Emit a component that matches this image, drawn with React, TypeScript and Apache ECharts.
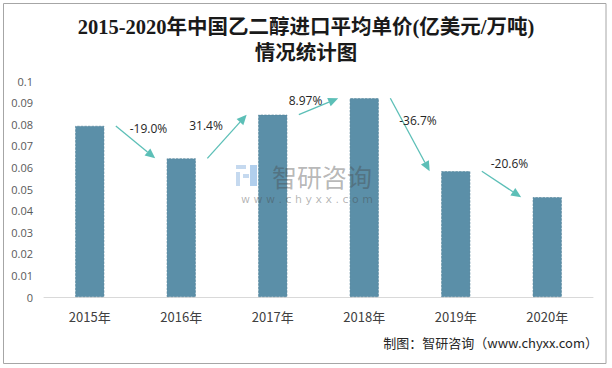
import React, { useEffect, useRef } from "react";
import * as echarts from "echarts";

const years = ["2015年", "2016年", "2017年", "2018年", "2019年", "2020年"];
const prices = [0.0792, 0.0642, 0.0844, 0.092, 0.0582, 0.0462];
const changeLabels = ["-19.0%", "31.4%", "8.97%", "-36.7%", "-20.6%"];
// label offsets (px) relative to each arrow's midpoint
const labelOffsets = [
  [13, -14],
  [-21, -11],
  [-13, -6],
  [8, -14],
  [8, -21],
];

const titleText = "2015-2020年中国乙二醇进口平均单价(亿美元/万吨)\n情况统计图";
const sourceText = "制图：智研咨询（www.chyxx.com）";

export default function App() {
  const ref = useRef<HTMLDivElement>(null);
  useEffect(() => {
    if (!ref.current) return;
    const chart = echarts.init(ref.current, null, { renderer: "svg" });
    const arrowData = changeLabels.map((lab, i) => [i, prices[i], prices[i + 1], lab]);
    const arrowColor = "#5cbfb7";
    const wmBlueLight = "rgba(150,185,225,0.55)";
    const wmBlue = "rgba(100,160,220,0.5)";
    chart.setOption({
      animation: false,
      backgroundColor: "#ffffff",
      title: {
        text: titleText,
        left: "center",
        top: 9,
        textStyle: {
          fontFamily: "'Liberation Serif', 'Noto Sans CJK SC', serif",
          fontSize: 20.5,
          fontWeight: "bold",
          color: "#1a1a1a",
          lineHeight: 26,
        },
      },
      grid: { left: 44, right: 19, top: 81, bottom: 71 },
      xAxis: {
        type: "category",
        data: years,
        axisLine: { lineStyle: { color: "#d9d9d9", width: 1 } },
        axisTick: { show: false },
        axisLabel: {
          color: "#404040",
          fontSize: 13,
          margin: 13,
          fontFamily: "'Noto Sans CJK SC', sans-serif",
        },
      },
      yAxis: {
        type: "value",
        min: 0,
        max: 0.1,
        interval: 0.01,
        splitLine: { show: false },
        axisLine: { show: false },
        axisTick: { show: false },
        axisLabel: {
          color: "#595959",
          fontSize: 11,
          margin: 11,
          fontFamily: "'Open Sans', sans-serif",
          formatter: (v: number) => (v === 0 ? "0" : String(parseFloat(v.toFixed(2)))),
        },
      },
      series: [
        {
          type: "bar",
          data: prices,
          barWidth: 29,
          itemStyle: {
            color: "#5b8fa8",
            borderColor: "#4f7f97",
            borderWidth: 0.6,
            borderType: "dashed",
          },
          z: 2,
        },
        {
          type: "custom",
          data: arrowData,
          encode: { x: 0, y: [1, 2] },
          z: 5,
          renderItem: (params: any, api: any) => {
            const i = api.value(0);
            const p1 = api.coord([i, api.value(1)]);
            const p2 = api.coord([i + 1, api.value(2)]);
            const band = api.size([1, 0])[0];
            const off = band * 0.285;
            const x1 = p1[0] + off;
            const y1 = p1[1];
            const x2 = p2[0] - off;
            const y2 = p2[1];
            const dx = x2 - x1;
            const dy = y2 - y1;
            const len = Math.sqrt(dx * dx + dy * dy);
            const ux = dx / len;
            const uy = dy / len;
            const hl = 10;
            const hw = 4.5;
            const bx = x2 - ux * hl;
            const by = y2 - uy * hl;
            const o = labelOffsets[params.dataIndex];
            const mx = (x1 + x2) / 2 + o[0];
            const my = (y1 + y2) / 2 + o[1];
            return {
              type: "group",
              children: [
                {
                  type: "line",
                  shape: { x1, y1, x2: bx, y2: by },
                  style: { stroke: arrowColor, lineWidth: 1.3 },
                },
                {
                  type: "polygon",
                  shape: {
                    points: [
                      [x2, y2],
                      [bx - uy * hw, by + ux * hw],
                      [bx + uy * hw, by - ux * hw],
                    ],
                  },
                  style: { fill: arrowColor },
                },
                {
                  type: "text",
                  x: mx,
                  y: my,
                  style: {
                    text: api.value(3),
                    fill: "#262626",
                    fontSize: 12,
                    fontFamily: "'Open Sans', sans-serif",
                    align: "center",
                    verticalAlign: "middle",
                  },
                },
              ],
            };
          },
        },
      ],
      graphic: [
        {
          type: "rect",
          shape: { x: 3.5, y: 3.5, width: 602.5, height: 360 },
          style: { fill: "none", stroke: "#a6a6a6", lineWidth: 1 },
          silent: true,
          z: 0,
        },
        { type: "rect", z: 100, silent: true, shape: { x: 236, y: 165, width: 10, height: 4 }, style: { fill: wmBlueLight } },
        { type: "rect", z: 100, silent: true, shape: { x: 236, y: 172, width: 4, height: 14 }, style: { fill: wmBlueLight } },
        { type: "rect", z: 100, silent: true, shape: { x: 243, y: 174, width: 6, height: 4 }, style: { fill: wmBlueLight } },
        { type: "rect", z: 100, silent: true, shape: { x: 250, y: 165, width: 7, height: 21 }, style: { fill: wmBlue } },
        {
          type: "text",
          z: 100,
          silent: true,
          x: 322,
          y: 176,
          style: {
            text: "智研咨询",
            fontSize: 25,
            fontFamily: "'Noto Sans CJK SC', sans-serif",
            fill: "rgba(70,70,70,0.4)",
            align: "center",
            verticalAlign: "middle",
          },
        },
        {
          type: "text",
          z: 100,
          silent: true,
          x: 307,
          y: 199,
          style: {
            text: "w w w . c h y x x . c o m",
            fontSize: 11,
            fontFamily: "'DejaVu Sans', sans-serif",
            fill: "rgba(70,70,70,0.4)",
            align: "center",
            verticalAlign: "middle",
          },
        },
        {
          type: "text",
          right: 14,
          top: 336,
          style: {
            text: sourceText,
            fontSize: 13,
            fontFamily: "'Noto Sans CJK SC', sans-serif",
            fill: "#262626",
          },
        },
      ],
    });
    return () => chart.dispose();
  }, []);
  return (
    <div
      ref={ref}
      style={{ position: "fixed", left: 0, top: 0, width: 612, height: 368 }}
    />
  );
}
